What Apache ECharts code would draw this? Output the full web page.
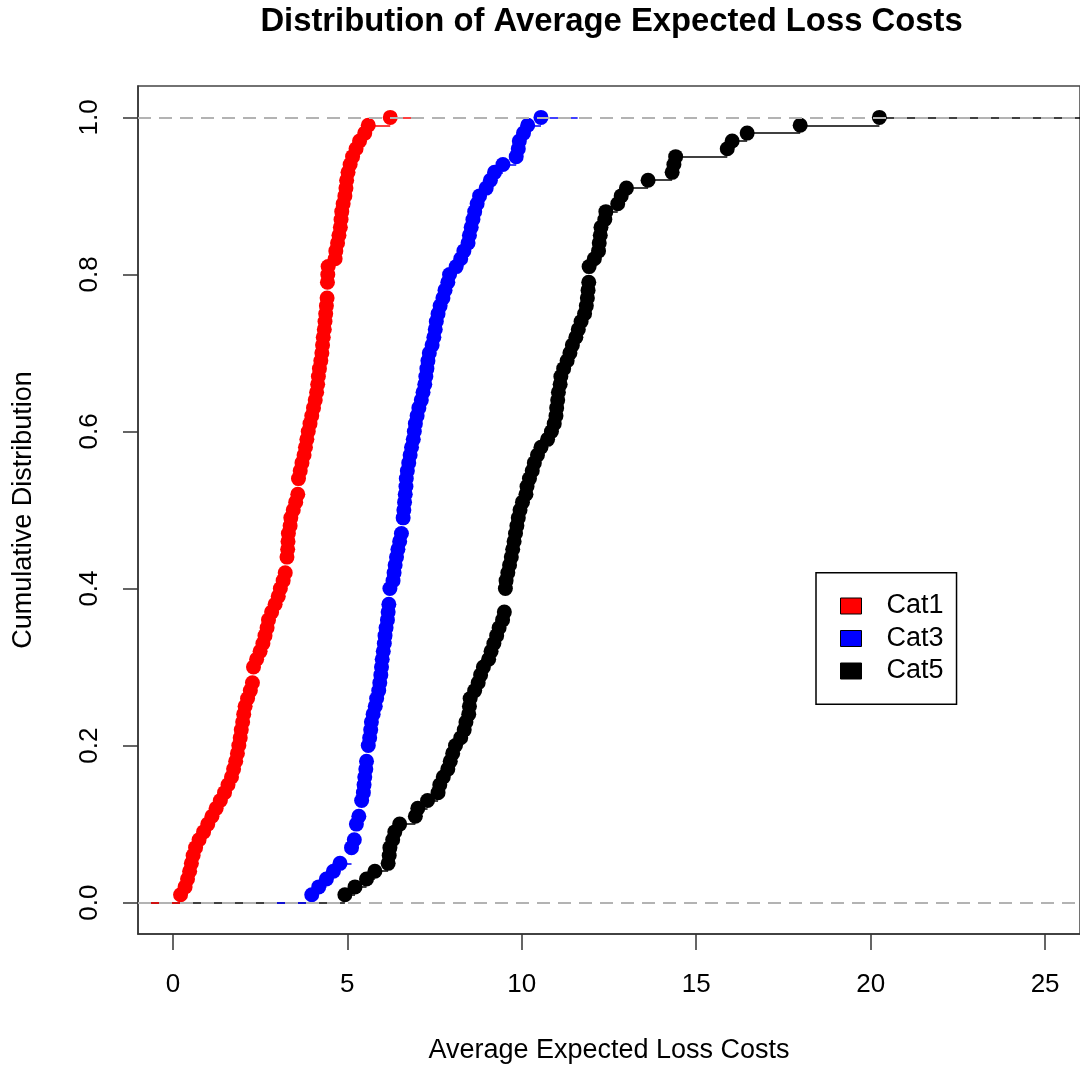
<!DOCTYPE html>
<html>
<head>
<meta charset="utf-8">
<script src="https://cdn.jsdelivr.net/npm/echarts@6/dist/echarts.min.js"></script>
<style>
  html, body { margin: 0; padding: 0; background: #fff; }
  #chart { width: 1080px; height: 1069px; }
</style>
</head>
<body>
<div id="chart"></div>
<script>
// axis ranges and ticks (xlim = c(0,25) plus R's 4% padding)
const X_MIN = -1, X_MAX = 26;
const Y_MIN = -0.04, Y_MAX = 1.04;
const xTicks = [0, 5, 10, 15, 20, 25];
const yTicks = [0, 0.2, 0.4, 0.6, 0.8, 1.0];

// average expected loss costs per sample
const cat1 = [
  0.22, 0.35, 0.42, 0.48, 0.53, 0.58, 0.65, 0.75, 0.88, 1.0,
  1.12, 1.24, 1.36, 1.48, 1.58, 1.68, 1.74, 1.8, 1.85, 1.89,
  1.93, 1.96, 2.0, 2.03, 2.07, 2.14, 2.22, 2.28, 2.31, 2.31,
  2.4, 2.5, 2.58, 2.64, 2.7, 2.74, 2.83, 2.93, 3.02, 3.08,
  3.16, 3.22, 3.27, 3.27, 3.29, 3.3, 3.31, 3.36, 3.38, 3.45,
  3.52, 3.58, 3.6, 3.6, 3.65, 3.7, 3.76, 3.8, 3.84, 3.88,
  3.93, 3.98, 4.03, 4.08, 4.12, 4.15, 4.17, 4.2, 4.24, 4.27,
  4.29, 4.31, 4.34, 4.36, 4.38, 4.4, 4.42, 4.43, 4.43, 4.44,
  4.45, 4.65, 4.67, 4.72, 4.76, 4.8, 4.82, 4.84, 4.88, 4.93,
  4.96, 4.98, 5.02, 5.08, 5.15, 5.25, 5.35, 5.5, 5.6, 6.23
];
const cat3 = [
  3.98, 4.18, 4.4, 4.6, 4.79, 5.12, 5.12, 5.2, 5.26, 5.26,
  5.33, 5.41, 5.41, 5.46, 5.48, 5.5, 5.53, 5.55, 5.6, 5.6,
  5.64, 5.67, 5.69, 5.74, 5.8, 5.84, 5.9, 5.93, 5.96, 5.98,
  6.0, 6.03, 6.06, 6.08, 6.11, 6.15, 6.17, 6.19, 6.22, 6.22,
  6.31, 6.34, 6.37, 6.41, 6.45, 6.5, 6.55, 6.6, 6.6, 6.62,
  6.64, 6.66, 6.68, 6.69, 6.72, 6.76, 6.8, 6.84, 6.89, 6.92,
  6.95, 7.0, 7.05, 7.12, 7.17, 7.22, 7.25, 7.28, 7.31, 7.35,
  7.43, 7.48, 7.52, 7.55, 7.6, 7.66, 7.74, 7.8, 7.88, 7.93,
  8.12, 8.25, 8.34, 8.46, 8.5, 8.55, 8.6, 8.65, 8.72, 8.79,
  8.98, 9.1, 9.22, 9.46, 9.84, 9.9, 9.93, 10.05, 10.17, 10.55
];
const cat5 = [
  4.93, 5.22, 5.55, 5.79, 6.17, 6.2, 6.22, 6.3, 6.36, 6.5,
  6.95, 7.02, 7.3, 7.6, 7.65, 7.75, 7.88, 7.95, 8.02, 8.1,
  8.25, 8.35, 8.4, 8.48, 8.5, 8.52, 8.65, 8.75, 8.82, 8.9,
  9.05, 9.12, 9.2, 9.28, 9.35, 9.45, 9.5, 9.53, 9.53, 9.53,
  9.55, 9.6, 9.65, 9.7, 9.74, 9.78, 9.82, 9.86, 9.9, 9.95,
  10.02, 10.12, 10.15, 10.22, 10.3, 10.36, 10.45, 10.55, 10.74, 10.85,
  10.93, 10.98, 11.0, 11.03, 11.05, 11.1, 11.12, 11.2, 11.3, 11.38,
  11.45, 11.55, 11.62, 11.7, 11.8, 11.85, 11.88, 11.9, 11.92, 11.93,
  11.93, 12.08, 12.2, 12.22, 12.25, 12.27, 12.38, 12.41, 12.75, 12.85,
  13.0, 13.62, 14.31, 14.36, 14.41, 15.89, 16.03, 16.46, 17.98, 20.25
];

const names = ['Cat1', 'Cat3', 'Cat5'];
const colors = ['#ff0000', '#0000ff', '#000000'];

const FONT = 'Liberation Sans, Arial, Helvetica, sans-serif';

// empirical cdf: one point per distinct value, height = share of values <= it
function ecdf(vals) {
  const xs = vals.slice().sort((a, b) => a - b);
  const n = xs.length;
  const pts = [];
  xs.forEach((x, i) => {
    if (i === n - 1 || xs[i + 1] !== x) pts.push([x, (i + 1) / n]);
  });
  return pts;
}

// horizontal steps like R's plot.stepfun (verticals = FALSE)
function steps(pts, xlim) {
  const knots = pts.map(p => p[0]);
  const d = [];
  for (let i = 1; i < knots.length; i++) d.push(knots[i] - knots[i - 1]);
  d.sort((a, b) => a - b);
  const med = d.length % 2 ? d[(d.length - 1) / 2] : (d[d.length / 2 - 1] + d[d.length / 2]) / 2;
  const dr = Math.max(0.08 * (knots[knots.length - 1] - knots[0]), med);
  const lim = xlim || [knots[0] - dr, knots[knots.length - 1] + dr];
  const left = Math.max(X_MIN, lim[0] - dr);
  const right = Math.min(X_MAX, lim[1] + dr);
  const segs = [{ coords: [[left, 0], [knots[0], 0]] }];
  for (let i = 0; i < pts.length; i++) {
    const x2 = i < pts.length - 1 ? pts[i + 1][0] : right;
    segs.push({ coords: [[pts[i][0], pts[i][1]], [x2, pts[i][1]]] });
  }
  return segs;
}

const ecdf1 = ecdf(cat1), ecdf3 = ecdf(cat3), ecdf5 = ecdf(cat5);

const series = [];
// Cat5 was the first plot, with xlim = c(0, 25)
[[ecdf5, [0, 25], 2], [ecdf1, null, 0], [ecdf3, null, 1]].forEach(([pts, xlim, ci]) => {
  series.push({
    type: 'lines',
    coordinateSystem: 'cartesian2d',
    silent: true,
    z: 2,
    lineStyle: { color: colors[ci], width: 1.5, opacity: 1 },
    data: steps(pts, xlim)
  });
  series.push({
    name: names[ci],
    type: 'scatter',
    symbol: 'circle',
    symbolSize: 15,
    z: 3,
    itemStyle: { color: colors[ci], opacity: 1 },
    data: pts
  });
});
// gray dashed lines at 0 and 1, drawn last like abline()
series.push({
  type: 'line',
  data: [],
  z: 5,
  markLine: {
    silent: true,
    symbol: 'none',
    label: { show: false },
    lineStyle: { color: '#b3b3b3', width: 2.2, type: [13, 8] },
    data: [{ yAxis: 0 }, { yAxis: 1 }]
  }
});

const option = {
  backgroundColor: '#fff',
  animation: false,
  textStyle: { fontFamily: FONT },
  title: {
    text: 'Distribution of Average Expected Loss Costs',
    left: 611.5,
    top: 5,
    padding: 0,
    textAlign: 'center',
    textStyle: { fontFamily: FONT, fontSize: 32.8, fontWeight: 'bold', color: '#000', lineHeight: 33 }
  },
  legend: {
    orient: 'vertical',
    left: 816,
    top: 572.7,
    padding: [19.8, 13, 19.8, 24],
    itemGap: 5.5,
    itemWidth: 21,
    itemHeight: 16,
    borderColor: '#000',
    borderWidth: 1.5,
    backgroundColor: '#fff',
    selectedMode: false,
    itemStyle: { borderColor: '#000', borderWidth: 1 },
    textStyle: { fontFamily: FONT, fontSize: 27, color: '#000', lineHeight: 27, padding: [0, 0, 0, 20] },
    data: names.map(n => ({ name: n, icon: 'rect' }))
  },
  grid: {
    left: 138,
    top: 86,
    width: 948,
    height: 849.5,
    show: true,
    borderColor: '#444',
    borderWidth: 1.5,
    backgroundColor: 'transparent'
  },
  xAxis: {
    type: 'value',
    min: X_MIN,
    max: X_MAX,
    name: 'Average Expected Loss Costs',
    nameLocation: 'middle',
    nameGap: 103,
    nameTextStyle: { fontFamily: FONT, fontSize: 27, color: '#000', lineHeight: 27 },
    axisLine: { show: true, onZero: false, lineStyle: { color: '#333', width: 1.5 } },
    axisTick: { show: true, customValues: xTicks, length: 16, lineStyle: { color: '#333', width: 1.5 } },
    axisLabel: { customValues: xTicks, fontSize: 26, color: '#000', margin: 38, lineHeight: 26, fontFamily: FONT },
    splitLine: { show: false }
  },
  yAxis: {
    type: 'value',
    min: Y_MIN,
    max: Y_MAX,
    name: 'Cumulative Distribution',
    nameLocation: 'middle',
    nameGap: 101,
    nameTextStyle: { fontFamily: FONT, fontSize: 27, color: '#000', lineHeight: 27 },
    axisLine: { show: true, onZero: false, lineStyle: { color: '#333', width: 1.5 } },
    axisTick: { show: true, customValues: yTicks, length: 15, lineStyle: { color: '#333', width: 1.5 } },
    axisLabel: {
      customValues: yTicks,
      rotate: 90,
      fontSize: 26,
      color: '#000',
      margin: 35,
      lineHeight: 26,
      fontFamily: FONT,
      formatter: v => v.toFixed(1)
    },
    splitLine: { show: false }
  },
  series: series
};

const myChart = echarts.init(document.getElementById('chart'));
myChart.setOption(option);
</script>
</body>
</html>
